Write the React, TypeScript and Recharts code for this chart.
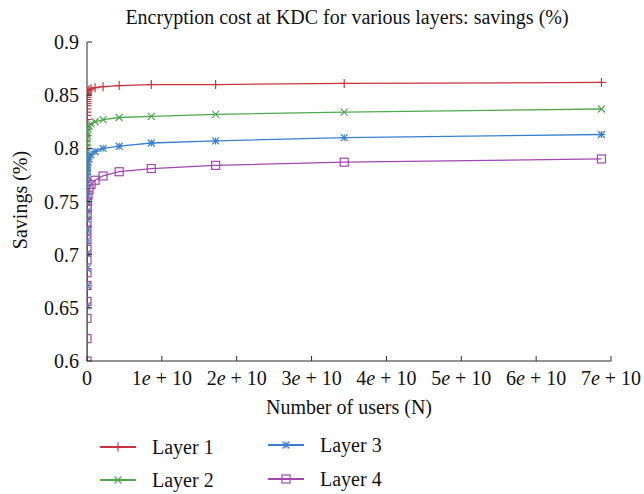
import React from 'react';
import { LineChart, Line, XAxis, YAxis } from 'recharts';

// number of users N (powers of two, 2^12 .. 2^36)
const users = [
  4096, 8192, 16384, 32768, 65536, 131072, 262144, 524288, 1048576, 2097152,
  4194304, 8388608, 16777216, 33554432, 67108864, 134217728, 268435456,
  536870912, 1073741824, 2147483648, 4294967296, 8589934592, 17179869184,
  34359738368, 68719476736,
];

// savings
const layer1 = [
  0.812, 0.818, 0.823, 0.827, 0.831, 0.834, 0.837, 0.84, 0.842, 0.844, 0.846, 0.848,
  0.85, 0.851, 0.852, 0.854, 0.855, 0.856, 0.857, 0.858, 0.859, 0.86, 0.86, 0.861, 0.862,
];
const layer2 = [
  0.725, 0.738, 0.749, 0.759, 0.767, 0.774, 0.781, 0.787, 0.792, 0.797, 0.801, 0.805,
  0.809, 0.812, 0.815, 0.818, 0.821, 0.823, 0.825, 0.827, 0.829, 0.83, 0.832, 0.834, 0.837,
];
const layer3 = [
  0.652, 0.671, 0.687, 0.701, 0.713, 0.723, 0.733, 0.741, 0.749, 0.756, 0.762, 0.768,
  0.773, 0.778, 0.782, 0.787, 0.79, 0.794, 0.797, 0.8, 0.802, 0.805, 0.807, 0.81, 0.813,
];
const layer4 = [
  null, 0.6, 0.621, 0.64, 0.656, 0.671, 0.683, 0.695, 0.705, 0.714, 0.723, 0.73,
  0.738, 0.744, 0.75, 0.756, 0.761, 0.766, 0.77, 0.774, 0.778, 0.781, 0.784, 0.787, 0.79,
];

const xTicks = [0, 1e10, 2e10, 3e10, 4e10, 5e10, 6e10, 7e10];
const yTicks = [0.6, 0.65, 0.7, 0.75, 0.8, 0.85, 0.9];

const FONT = '"Liberation Serif", "Times New Roman", serif';
const AXIS = '#2b2b2b';

const series = [
  { key: 'l1', name: 'Layer 1', color: '#c93340', marker: 'plus' },
  { key: 'l2', name: 'Layer 2', color: '#4fa84f', marker: 'cross' },
  { key: 'l3', name: 'Layer 3', color: '#3a7fcf', marker: 'star' },
  { key: 'l4', name: 'Layer 4', color: '#a246b2', marker: 'square' },
];

const data = users.map((n, i) => ({
  n,
  l1: layer1[i],
  l2: layer2[i],
  l3: layer3[i],
  l4: layer4[i],
}));

const Marker = ({ x, y, type, color }: { x: number; y: number; type: string; color: string }) => {
  const s = type === 'plus' ? 4.5 : 3.5;
  const p = { stroke: color, strokeWidth: 1.2, fill: 'none' };
  if (type === 'square') return <rect x={x - 4} y={y - 4} width={8} height={8} {...p} />;
  const plus = (
    <>
      <line x1={x} x2={x} y1={y - s} y2={y + s} {...p} />
      <line x1={x - s} x2={x + s} y1={y} y2={y} {...p} />
    </>
  );
  const cross = (
    <>
      <line x1={x - s} x2={x + s} y1={y - s} y2={y + s} {...p} />
      <line x1={x - s} x2={x + s} y1={y + s} y2={y - s} {...p} />
    </>
  );
  if (type === 'plus') return <g>{plus}</g>;
  if (type === 'cross') return <g>{cross}</g>;
  return (
    <g>
      {plus}
      {cross}
    </g>
  );
};

const makeDot = (type: string, color: string) => (props: any) => {
  const { cx, cy, index, value } = props;
  if (cx == null || cy == null || value == null) return <g key={`e-${type}-${index}`} />;
  return (
    <g key={`d-${type}-${index}`}>
      <Marker x={cx} y={cy} type={type} color={color} />
    </g>
  );
};

const X_MARGIN = 9;
const XTick = (props: any) => {
  const { x, y, payload } = props;
  const v = Math.round(payload.value / 1e10);
  const axisY = y - X_MARGIN;
  return (
    <g>
      <line x1={x} x2={x} y1={axisY} y2={axisY - 5} stroke={AXIS} />
      <text x={x} y={y} dy="0.75em" textAnchor="middle" fontFamily={FONT} fontSize={20} fill="#111">
        {v === 0 ? (
          '0'
        ) : (
          <>
            {v}
            <tspan fontStyle="italic">e</tspan>
            {' + 10'}
          </>
        )}
      </text>
    </g>
  );
};

const TopTick = (props: any) => {
  const { x, y } = props;
  return <line x1={x} x2={x} y1={y} y2={y + 5} stroke={AXIS} />;
};

const Y_MARGIN = 8;
const YTick = (props: any) => {
  const { x, y, payload } = props;
  const axisX = x + Y_MARGIN;
  return (
    <g>
      <line x1={axisX} x2={axisX + 5} y1={y} y2={y} stroke={AXIS} />
      <text x={x} y={y} dy="0.35em" textAnchor="end" fontFamily={FONT} fontSize={20} fill="#111">
        {String(payload.value)}
      </text>
    </g>
  );
};

const RightTick = (props: any) => {
  const { x, y } = props;
  return <line x1={x} x2={x - 5} y1={y} y2={y} stroke={AXIS} />;
};

const LegendItem = ({ s, left, top }: { s: (typeof series)[number]; left: number; top: number }) => (
  <div style={{ position: 'absolute', left, top, height: 22, display: 'flex', alignItems: 'center' }}>
    <svg width={36} height={12} style={{ marginRight: 16 }}>
      <line x1={0} x2={36} y1={6} y2={6} stroke={s.color} strokeWidth={2.2} />
      <Marker x={18} y={6} type={s.marker} color={s.color} />
    </svg>
    <span style={{ fontFamily: FONT, fontSize: 20, lineHeight: '22px', color: '#111' }}>{s.name}</span>
  </div>
);

export default function App() {
  return (
    <div style={{ position: 'absolute', left: 0, top: 0, width: 644, height: 494, background: '#fff', overflow: 'hidden' }}>
      <div
        style={{
          position: 'absolute',
          left: 0,
          width: 700,
          marginLeft: -3,
          top: 6,
          textAlign: 'center',
          fontFamily: FONT,
          fontSize: 20,
          color: '#111',
        }}
      >
        Encryption cost at KDC for various layers: savings (%)
      </div>
      <div
        style={{
          position: 'absolute',
          left: 20,
          top: 200,
          transform: 'translate(-50%, -50%) rotate(-90deg)',
          whiteSpace: 'nowrap',
          fontFamily: FONT,
          fontSize: 20,
          color: '#111',
        }}
      >
        Savings (%)
      </div>
      <div
        style={{
          position: 'absolute',
          left: 349,
          top: 407,
          transform: 'translate(-50%, -50%)',
          whiteSpace: 'nowrap',
          fontFamily: FONT,
          fontSize: 20,
          color: '#111',
        }}
      >
        Number of users (N)
      </div>
      <LineChart width={644} height={494} data={data} margin={{ top: 42, right: 33, bottom: 103, left: 47 }}>
        <XAxis
          dataKey="n"
          type="number"
          domain={[0, 7e10]}
          allowDataOverflow
          ticks={xTicks}
          interval={0}
          height={30}
          tickSize={0}
          tickMargin={X_MARGIN}
          tick={<XTick />}
          axisLine={{ stroke: AXIS }}
        />
        <XAxis
          xAxisId="top"
          orientation="top"
          type="number"
          domain={[0, 7e10]}
          allowDataOverflow
          ticks={xTicks}
          interval={0}
          height={0}
          tickSize={0}
          tickMargin={0}
          tick={<TopTick />}
          axisLine={{ stroke: AXIS }}
        />
        <YAxis
          type="number"
          domain={[0.6, 0.9]}
          allowDataOverflow
          ticks={yTicks}
          interval={0}
          width={40}
          tickSize={0}
          tickMargin={Y_MARGIN}
          tick={<YTick />}
          axisLine={{ stroke: AXIS }}
        />
        <YAxis
          yAxisId="right"
          orientation="right"
          type="number"
          domain={[0.6, 0.9]}
          allowDataOverflow
          ticks={yTicks}
          interval={0}
          width={0}
          tickSize={0}
          tickMargin={0}
          tick={<RightTick />}
          axisLine={{ stroke: AXIS }}
        />
        {series.map((s) => (
          <Line
            key={s.key}
            type="linear"
            dataKey={s.key}
            name={s.name}
            stroke={s.color}
            strokeWidth={1.3}
            dot={makeDot(s.marker, s.color)}
            activeDot={false}
            isAnimationActive={false}
          />
        ))}
      </LineChart>
      <LegendItem s={series[0]} left={100} top={436} />
      <LegendItem s={series[2]} left={268} top={434} />
      <LegendItem s={series[1]} left={100} top={469} />
      <LegendItem s={series[3]} left={268} top={468} />
    </div>
  );
}
